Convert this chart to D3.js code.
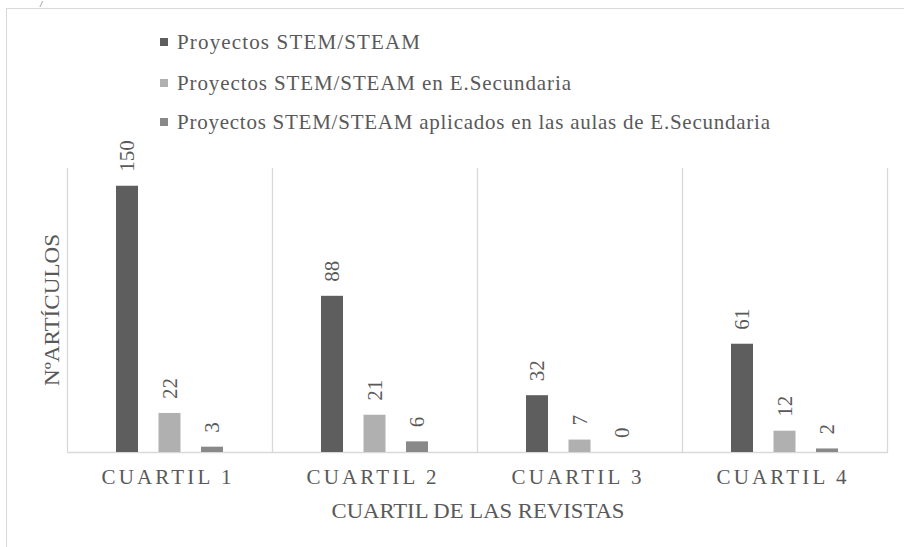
<!DOCTYPE html>
<html>
<head>
<meta charset="utf-8">
<script src="https://cdn.jsdelivr.net/npm/d3@7"></script>
<style>
    body { margin: 0; background: white; }
</style>
</head>
<body>
<div id="chart"></div>
<script>
const categories = ["CUARTIL 1", "CUARTIL 2", "CUARTIL 3", "CUARTIL 4"];
const seriesNames = [
    "Proyectos STEM/STEAM",
    "Proyectos STEM/STEAM en E.Secundaria",
    "Proyectos STEM/STEAM aplicados en las aulas de E.Secundaria"
];
const stemValues = [150, 88, 32, 61];
const secundariaValues = [22, 21, 7, 12];
const aulasValues = [3, 6, 0, 2];
const yTicks = [0, 160];

function makeChart() {
    const width = 904;
    const height = 547;
    const serif = "'Liberation Serif', 'Times New Roman', 'DejaVu Serif', serif";
    const seriesValues = [stemValues, secundariaValues, aulasValues];
    const seriesColor = ["#5e5e5e", "#b0b0b0", "#898989"];
    const gridColor = "#d9d9d9";
    const textColor = "#595959";

    const svg = d3.select("div#chart")
        .append("svg")
        .attr("width", width)
        .attr("height", height);

    // outer frame (cut by the page edge)
    svg.append("rect")
        .attr("x", 6.5).attr("y", 8.5)
        .attr("width", 1000).attr("height", 1000)
        .attr("fill", "none")
        .attr("stroke", gridColor);
    svg.append("text").attr("x", 40).attr("y", 7).text("/")
        .attr("font-family", serif)
        .style("font-size", "8px").style("font-style", "italic").attr("fill", "#333");

    const left = 67, right = 887, top = 168, bottom = 452;

    const x0 = d3.scaleBand().domain(categories).range([left, right]).padding(0);
    const x1 = d3.scaleBand().domain(d3.range(seriesNames.length))
        .range([38.75, x0.bandwidth() - 38.75])
        .paddingInner(0.482).paddingOuter(0.241);
    const y = d3.scaleLinear().domain(d3.extent(yTicks)).range([bottom, top]);

    // vertical separators between categories
    const edges = categories.map(c => x0(c)).concat([right]);
    svg.selectAll("line.sep").data(edges).enter().append("line")
        .attr("x1", d => d + 0.5).attr("x2", d => d + 0.5)
        .attr("y1", top).attr("y2", bottom)
        .attr("stroke", gridColor).attr("stroke-width", 1.3);
    svg.append("line")
        .attr("x1", left).attr("x2", right + 1)
        .attr("y1", bottom + 0.5).attr("y2", bottom + 0.5)
        .attr("stroke", gridColor).attr("stroke-width", 1.3);

    const bars = [];
    categories.forEach((c, i) => {
        seriesValues.forEach((vals, s) => {
            bars.push({ cat: c, s: s, v: vals[i] });
        });
    });

    svg.selectAll("rect.bar").data(bars).enter().append("rect")
        .attr("x", d => x0(d.cat) + x1(d.s))
        .attr("width", x1.bandwidth())
        .attr("y", d => y(d.v))
        .attr("height", d => y(0) - y(d.v))
        .attr("fill", d => seriesColor[d.s]);

    svg.selectAll("text.val").data(bars).enter().append("text")
        .attr("transform", d => "translate(" + (x0(d.cat) + x1(d.s) + x1.bandwidth() / 2) + "," + (y(d.v) - 14) + ") rotate(-90)")
        .attr("dy", "0.35em")
        .text(d => d.v)
        .attr("font-family", serif)
        .style("font-size", "21px")
        .attr("fill", textColor);

    // category labels
    svg.selectAll("text.cat").data(categories).enter().append("text")
        .attr("x", d => x0(d) + x0.bandwidth() / 2 - 3 - 65)
        .attr("y", 477)
        .attr("dy", "0.35em")
        .attr("textLength", 130)
        .attr("lengthAdjust", "spacing")
        .text(d => d)
        .attr("font-family", serif)
        .style("font-size", "21px")
        .attr("fill", textColor);

    svg.append("text")
        .attr("x", (left + right) / 2 + 1 - 146.5).attr("y", 510)
        .attr("dy", "0.35em")
        .attr("textLength", 293).attr("lengthAdjust", "spacingAndGlyphs")
        .text("CUARTIL DE LAS REVISTAS")
        .attr("font-family", serif)
        .style("font-size", "22px").attr("fill", textColor);

    svg.append("text")
        .attr("transform", "translate(51," + ((top + bottom) / 2 + 76) + ") rotate(-90)")
        .attr("dy", "0.35em")
        .attr("textLength", 152).attr("lengthAdjust", "spacingAndGlyphs")
        .text("NºARTÍCULOS")
        .attr("font-family", serif)
        .style("font-size", "22px").attr("fill", textColor);

    // legend
    const legendY = [42, 83, 122];
    const legendW = [243, 394, 593];
    seriesNames.forEach((name, i) => {
        svg.append("rect")
            .attr("x", 160).attr("y", legendY[i] - 4)
            .attr("width", 8).attr("height", 8)
            .attr("fill", seriesColor[i]);
        svg.append("text")
            .attr("x", 177).attr("y", legendY[i])
            .attr("dy", "0.35em")
            .attr("textLength", legendW[i]).attr("lengthAdjust", "spacing")
            .text(name)
            .attr("font-family", serif)
            .style("font-size", "21px").attr("fill", textColor);
    });
}
makeChart();
</script>
</body>
</html>
